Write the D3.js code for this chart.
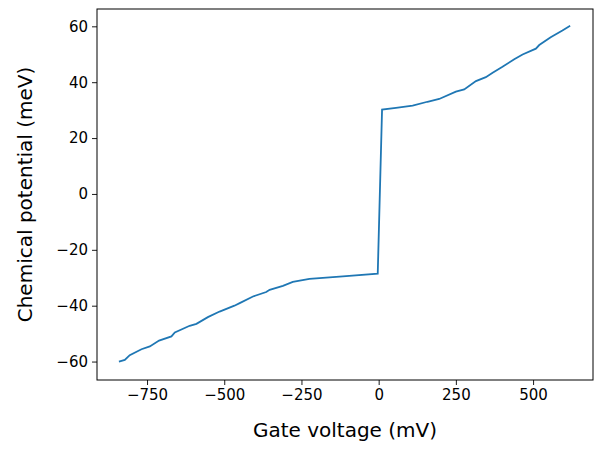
<!DOCTYPE html>
<html>
<head>
<meta charset="utf-8">
<script src="https://cdn.jsdelivr.net/npm/d3@7"></script>
<style>
  body { margin: 0; background: #fff; }
  text { font-family: "DejaVu Sans", sans-serif; }
</style>
</head>
<body>
<svg id="chart" width="603" height="452"></svg>
<script>
// gate voltage (mV) and chemical potential (meV)
var gateV = [-841, -822, -806, -768, -741, -711, -671, -660, -612, -590, -553, -515,
  -467, -450, -407, -364, -353, -310, -278, -224, -116, -3,
  11, 56, 110, 158, 196, 250, 277, 315, 347, 369, 401, 439, 466, 509, 520, 557, 595, 620];
var chemPot = [-60.0, -59.4, -57.7, -55.6, -54.6, -52.5, -51.0, -49.6, -47.2, -46.5, -44.1, -42.1,
  -40.0, -39.1, -36.7, -35.1, -34.3, -32.9, -31.5, -30.4, -29.5, -28.5,
  30.2, 30.8, 31.6, 33.0, 34.0, 36.6, 37.4, 40.4, 41.8, 43.4, 45.5, 48.2, 49.9, 52.0, 53.3, 56.1, 58.5, 60.2];
var xTicks = [-750, -500, -250, 0, 250, 500];
var yTicks = [-60, -40, -20, 0, 20, 40, 60];

(function() {
  var pl = 97, pr = 593, pt = 9, pb = 380;
  var svg = d3.select("#chart");
  var fmt = function(d) { return d < 0 ? "\u2212" + (-d) : String(d); };

  var x = d3.scaleLinear().domain([-912, 694]).range([pl, pr]);
  var y = d3.scaleLinear().domain([-66.6, 66.2]).range([pb, pt]);

  var xAxis = svg.append("g")
      .attr("transform", "translate(0," + pb + ")")
      .call(d3.axisBottom(x).tickValues(xTicks).tickSize(5).tickPadding(4).tickFormat(fmt));
  var yAxis = svg.append("g")
      .attr("transform", "translate(" + pl + ",0)")
      .call(d3.axisLeft(y).tickValues(yTicks).tickSize(5).tickPadding(4).tickFormat(fmt));
  [xAxis, yAxis].forEach(function(a) {
    a.attr("font-size", null).attr("font-family", null);
    a.select(".domain").remove();
    a.selectAll("text").style("font-size", "15px").attr("fill", "#000");
    a.selectAll("line").attr("stroke", "#000").attr("stroke-width", 0.9);
  });

  svg.append("rect")
      .attr("x", pl).attr("y", pt)
      .attr("width", pr - pl).attr("height", pb - pt)
      .attr("fill", "none").attr("stroke", "#000").attr("stroke-width", 1);

  var line = d3.line()
      .x(function(d, i) { return x(gateV[i]); })
      .y(function(d, i) { return y(chemPot[i]); });

  svg.append("path")
      .datum(gateV)
      .attr("d", line)
      .attr("fill", "none")
      .attr("stroke", "#1f77b4")
      .attr("stroke-width", 1.8);

  svg.append("text")
      .attr("x", (pl + pr) / 2).attr("y", 437)
      .attr("text-anchor", "middle")
      .style("font-size", "20px")
      .text("Gate voltage (mV)");

  svg.append("text")
      .attr("transform", "translate(32," + ((pt + pb) / 2) + ") rotate(-90)")
      .attr("text-anchor", "middle")
      .style("font-size", "20px")
      .text("Chemical potential (meV)");
})();
</script>
</body>
</html>
